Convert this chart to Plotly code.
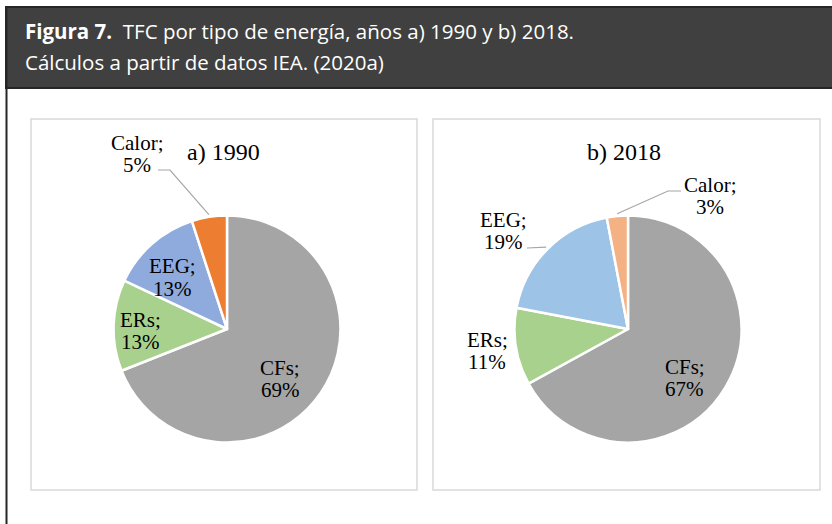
import math
import plotly.graph_objects as go

W, H = 832, 524

# ---- data ----
categories = ["CFs", "ERs", "EEG", "Calor"]
values_1990 = [69, 13, 13, 5]
values_2018 = [67, 11, 19, 3]
titles = ["a) 1990", "b) 2018"]
header_line1_bold = "Figura 7."
header_line1 = "TFC por tipo de energía, años a) 1990 y b) 2018."
header_line2 = "Cálculos a partir de datos IEA. (2020a)"

# ---- styles ----
colors_1990 = ["#A5A5A5", "#A9D18E", "#8FAADC", "#ED7D31"]
colors_2018 = ["#A5A5A5", "#A9D18E", "#9DC3E6", "#F4B183"]
SERIF = "Liberation Serif"
SANS = "Open Sans"

def px(x):
    return x / W

def py(y):
    return 1 - y / H

# pie geometry (pixels)
R = 113.5
centers = [(227, 329), (628, 329)]

# label centre positions (pixels) per chart / slice
label_pos = [
    [(280, 379), (140, 331), (172.5, 277.5), (137, 154)],
    [(684.5, 377.5), (487, 350.5), (503.7, 231), (710, 196)],
]
# leader lines: (label side points) for slices with an outside label
leaders = {
    (0, 3): [(158, 170), (170, 170)],
    (1, 3): [(681, 191), (668, 191)],
    (1, 2): [(527, 248)],
}

fig = go.Figure()
shapes = []
annotations = []

# header
shapes.append(dict(type="rect", xref="paper", yref="paper",
                   x0=px(6), x1=px(834), y0=py(88), y1=py(7),
                   fillcolor="#404040", line=dict(color="#262626", width=2),
                   layer="below"))
shapes.append(dict(type="line", xref="paper", yref="paper",
                   x0=px(6.5), x1=px(6.5), y0=py(7), y1=py(526),
                   line=dict(color="#262626", width=2)))
annotations.append(dict(xref="paper", yref="paper", x=px(23), y=py(31),
                        xanchor="left", yanchor="middle", showarrow=False,
                        text=f"<b>{header_line1_bold}</b>  {header_line1}",
                        font=dict(family=SANS, size=20.5, color="white")))
annotations.append(dict(xref="paper", yref="paper", x=px(23), y=py(62),
                        xanchor="left", yanchor="middle", showarrow=False,
                        text=header_line2,
                        font=dict(family=SANS, size=20.5, color="white")))

# panel frames
for (x0, x1) in [(31, 417), (433, 820)]:
    shapes.append(dict(type="rect", xref="paper", yref="paper",
                       x0=px(x0), x1=px(x1), y0=py(490), y1=py(119),
                       fillcolor="white", line=dict(color="#D9D9D9", width=1.5),
                       layer="below"))

for ci, (vals, cols) in enumerate([(values_1990, colors_1990), (values_2018, colors_2018)]):
    cx, cy = centers[ci]
    fig.add_trace(go.Pie(
        labels=categories, values=vals, sort=False, direction="clockwise",
        rotation=0, textinfo="none", hoverinfo="label+percent",
        marker=dict(colors=cols, line=dict(color="white", width=2.5)),
        domain=dict(x=[px(cx - R), px(cx + R)], y=[py(cy + R), py(cy - R)]),
        showlegend=False,
    ))
    # title
    annotations.append(dict(xref="paper", yref="paper", x=px(cx - 4), y=py(152),
                            xanchor="center", yanchor="middle", showarrow=False,
                            text=titles[ci], font=dict(family=SERIF, size=24, color="black")))
    total = sum(vals)
    cum = 0
    for si, (cat, v) in enumerate(zip(categories, vals)):
        mid = (cum + v / 2) / total * 2 * math.pi
        cum += v
        lx, ly = label_pos[ci][si]
        annotations.append(dict(xref="paper", yref="paper", x=px(lx), y=py(ly - 11),
                                xanchor="center", yanchor="middle", showarrow=False,
                                text=f"{cat};", font=dict(family=SERIF, size=21, color="black")))
        annotations.append(dict(xref="paper", yref="paper", x=px(lx), y=py(ly + 11),
                                xanchor="center", yanchor="middle", showarrow=False,
                                text=f"{round(v / total * 100)}%",
                                font=dict(family=SERIF, size=21, color="black")))
        if (ci, si) in leaders:
            ex = cx + R * 1.02 * math.sin(mid)
            ey = cy - R * 1.02 * math.cos(mid)
            pts = leaders[(ci, si)] + [(ex, ey)]
            path = "M " + " L ".join(f"{px(x)},{py(y)}" for x, y in pts)
            shapes.append(dict(type="path", xref="paper", yref="paper", path=path,
                               line=dict(color="#A6A6A6", width=1.2)))

fig.update_layout(width=W, height=H, margin=dict(l=0, r=0, t=0, b=0),
                  paper_bgcolor="white", plot_bgcolor="white",
                  shapes=shapes, annotations=annotations)
fig.write_html("out.html", config={"displayModeBar": False},
               post_script="document.body.style.margin='0';document.body.style.overflow='hidden';")
